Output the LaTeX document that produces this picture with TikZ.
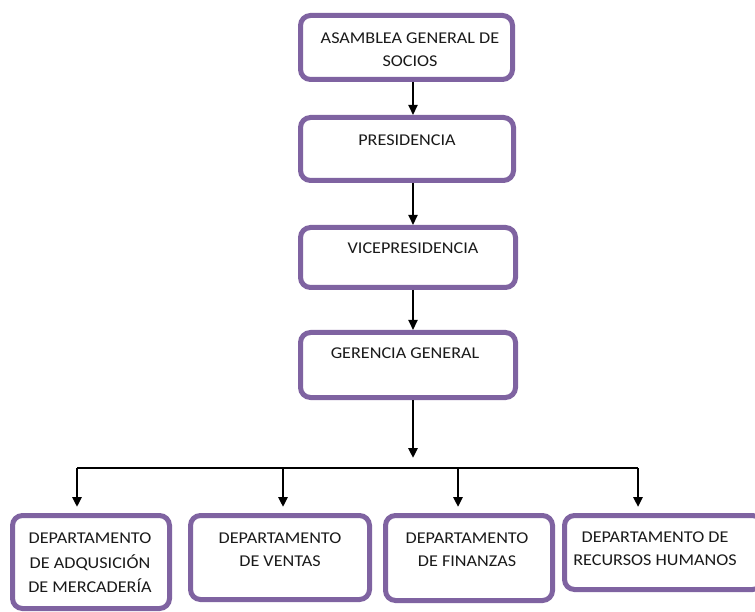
\documentclass[tikz,border=0pt]{standalone}
\usepackage{fontspec}
\setmainfont{Carlito}[FakeStretch=1.1]
\usetikzlibrary{arrows.meta,calc}
\definecolor{boxpurple}{HTML}{7F63A1}
\definecolor{txt}{HTML}{1A1A1A}
\tikzset{
  orgbox/.style={draw=boxpurple, line width=5pt, rounded corners=10pt, fill=white, inner sep=0pt},
  lbl/.style={text=txt, align=center, inner sep=0pt, font=\fontsize{16.5}{23}\selectfont},
  arr/.style={draw=black, line width=2pt, -{Triangle[width=9pt,length=10pt]}},
  barline/.style={draw=black, line width=1.2pt}
}
\begin{document}
\begin{tikzpicture}[x=1pt,y=-1pt]
\useasboundingbox (0,0) rectangle (755,612);
% boxes
\node[orgbox, minimum width=212pt, minimum height=64pt] (A) at (406.5,47.5) {};
\node[orgbox, minimum width=213pt, minimum height=63pt] (P) at (407,149) {};
\node[orgbox, minimum width=215pt, minimum height=60pt] (V) at (408,257.5) {};
\node[orgbox, minimum width=215pt, minimum height=65pt] (G) at (408,365) {};
\node[orgbox, minimum width=157pt, minimum height=93pt] (B1) at (91,562) {};
\node[orgbox, minimum width=179pt, minimum height=84pt] (B2) at (280,557.5) {};
\node[orgbox, minimum width=167pt, minimum height=85pt] (B3) at (469,558) {};
\node[orgbox, minimum width=198pt, minimum height=74pt] (B4) at (663.5,552.5) {};
% texts
\node[lbl] (tA) at (410,49.5) {ASAMBLEA GENERAL DE\\SOCIOS};
\node[lbl] (tP) at (407,140) {PRESIDENCIA};
\node[lbl] (tV) at (413,248) {VICEPRESIDENCIA};
\node[lbl] (tG) at (405,353) {GERENCIA GENERAL};
\node[lbl, font=\fontsize{16.5}{24.5}\selectfont] (tB1) at (90,563) {DEPARTAMENTO\\DE ADQUSICIÓN\\DE MERCADERÍA};
\node[lbl] (tB2) at (280,550) {DEPARTAMENTO\\DE VENTAS};
\node[lbl] (tB3) at (467,550) {DEPARTAMENTO\\DE FINANZAS};
\node[lbl] (tB4) at (655,549) {DEPARTAMENTO DE\\RECURSOS HUMANOS};
% connectors
\coordinate (ax) at (413,0);
\coordinate (gend) at (413,458);
\coordinate (d1) at (77,468);
\coordinate (d2) at (283,468);
\coordinate (d3) at (458,468);
\coordinate (d4) at (638,468);
\draw[arr] (A.south -| ax) -- (P.north -| ax);
\draw[arr] (P.south -| ax) -- (V.north -| ax);
\draw[arr] (V.south -| ax) -- (G.north -| ax);
\draw[arr, line width=2.5pt] (G.south -| ax) -- (gend);
\draw[barline] (d1) -- (d4);
\draw[arr, line width=2.5pt, shorten >=6pt] (d1) -- (B1.north -| d1);
\draw[arr, line width=2.5pt, shorten >=6pt] (d2) -- (B2.north -| d2);
\draw[arr, line width=2.5pt, shorten >=6pt] (d3) -- (B3.north -| d3);
\draw[arr, line width=2.5pt, shorten >=6pt] (d4) -- (B4.north -| d4);
\end{tikzpicture}
\end{document}
